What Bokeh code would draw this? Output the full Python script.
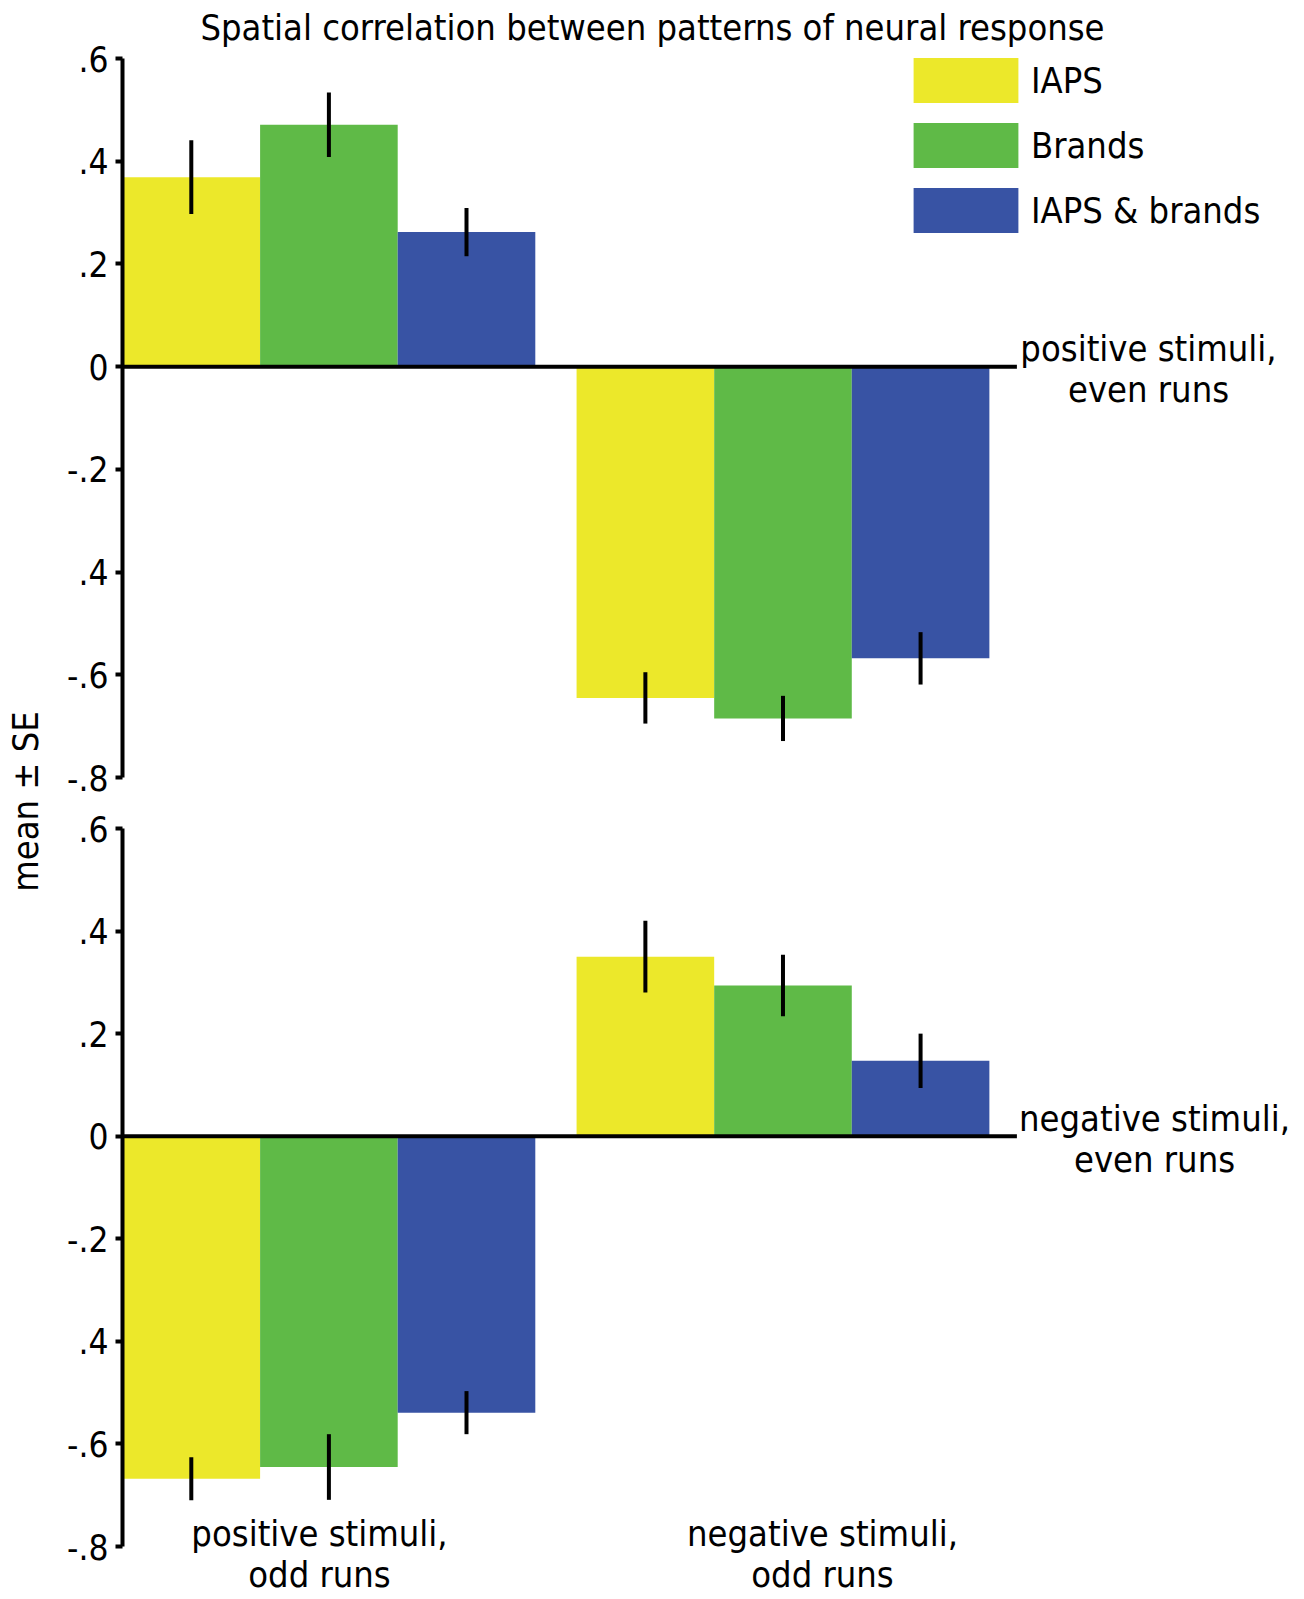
import math
from bokeh.plotting import figure
from bokeh.models import Range1d, FixedTicker, Label, Legend, LegendItem, ColumnDataSource
from bokeh.layouts import row, column
from bokeh.embed import file_html
from bokeh.resources import INLINE

# ---------------- data ----------------
TITLE = "Spatial correlation between patterns of neural response"
Y_LABEL = "mean ± SE"
SERIES = ["IAPS", "Brands", "IAPS & brands"]
COLUMN_LABELS = ["positive stimuli,\nodd runs", "negative stimuli,\nodd runs"]
ROW_LABELS = ["positive stimuli,\neven runs", "negative stimuli,\neven runs"]
Y_TICKS = [-0.8, -0.6, -0.4, -0.2, 0, 0.2, 0.4, 0.6]
Y_TICK_LABELS = ["-.8", "-.6", ".4", "-.2", "0", ".2", ".4", ".6"]

# row 1: positive stimuli, even runs  (values for [positive odd, negative odd])
POS_EVEN_IAPS = [0.369, -0.645]
POS_EVEN_BRANDS = [0.471, -0.685]
POS_EVEN_BOTH = [0.262, -0.568]
POS_EVEN_IAPS_SE = [0.072, 0.050]
POS_EVEN_BRANDS_SE = [0.063, 0.044]
POS_EVEN_BOTH_SE = [0.047, 0.051]

# row 2: negative stimuli, even runs  (values for [positive odd, negative odd])
NEG_EVEN_IAPS = [-0.668, 0.350]
NEG_EVEN_BRANDS = [-0.645, 0.294]
NEG_EVEN_BOTH = [-0.539, 0.147]
NEG_EVEN_IAPS_SE = [0.042, 0.070]
NEG_EVEN_BRANDS_SE = [0.064, 0.060]
NEG_EVEN_BOTH_SE = [0.042, 0.053]

# ---------------- style / layout ----------------
COLORS = ["#ECE82A", "#5FBA47", "#3853A4"]
FONT = "DejaVu Sans Condensed"
FS = "36px"
TICK_FS = "35px"
LINE_H = 1.0

LBL_W = 50
FIG_W = 1250
BORDER_L = 72
FRAME_LEFT = LBL_W + BORDER_L          # page px of frame left (=122)
PX_PER_UNIT = 137.6
GAP = 0.3
X_END = (FIG_W - BORDER_L) / PX_PER_UNIT
Y0, Y1 = -0.8, 0.6

# panel geometry in page pixels: figure top, figure height, pixel rows of 0.6 and -0.8
P1 = dict(top=0, h=800, y_hi=58, y_lo=777)
P2 = dict(top=800, h=799, y_hi=828, y_lo=1546)


def scale(P):
    return (P["y_lo"] - P["y_hi"]) / (Y1 - Y0)


def yd(page_y, P):
    return Y1 - (page_y - P["y_hi"]) / scale(P)


def xd(page_x):
    return (page_x - FRAME_LEFT) / PX_PER_UNIT


def bar_x(group, k):
    return group * (len(SERIES) + GAP) + k + 0.5


def make_panel(means, ses, P):
    p = figure(width=FIG_W, height=P["h"],
               x_range=Range1d(0, X_END),
               y_range=Range1d(yd(P["top"] + P["h"], P), yd(P["top"], P)),
               output_backend="svg", toolbar_location=None, title=None,
               x_axis_location=None,
               min_border_left=BORDER_L, min_border_right=0,
               min_border_top=0, min_border_bottom=0)
    p.xgrid.visible = False
    p.ygrid.visible = False
    p.outline_line_color = None
    renderers = []
    for k, (m, s, c) in enumerate(zip(means, ses, COLORS)):
        xs = [bar_x(g, k) for g in range(len(m))]
        src = ColumnDataSource(dict(x=xs, top=m, lo=[a - b for a, b in zip(m, s)],
                                    hi=[a + b for a, b in zip(m, s)]))
        r = p.vbar(x="x", top="top", bottom=0, width=1.0, source=src,
                   fill_color=c, line_color=None)
        renderers.append((r, src))
    for r, src in renderers:
        p.segment(x0="x", y0="lo", x1="x", y1="hi", source=src,
                  line_color="black", line_width=4)
    zero_end = bar_x(len(means[0]) - 1, len(SERIES) - 1) + 0.5 + 0.2
    p.segment(x0=[0], y0=[0], x1=[zero_end], y1=[0], line_color="black", line_width=4)

    ax = p.yaxis[0]
    ax.bounds = (Y0, Y1)
    ax.ticker = FixedTicker(ticks=Y_TICKS)
    ax.major_label_overrides = dict(zip(Y_TICKS, Y_TICK_LABELS))
    ax.axis_line_width = 4
    ax.axis_line_color = "black"
    ax.major_tick_line_width = 4
    ax.major_tick_line_color = "black"
    ax.major_tick_out = 7
    ax.major_tick_in = 0
    ax.minor_tick_out = 0
    ax.minor_tick_in = 0
    ax.major_label_standoff = 7
    ax.major_label_text_font = FONT
    ax.major_label_text_font_size = TICK_FS
    ax.major_label_text_color = "black"
    return p, [r for r, _ in renderers]


p1, rs1 = make_panel([POS_EVEN_IAPS, POS_EVEN_BRANDS, POS_EVEN_BOTH],
                     [POS_EVEN_IAPS_SE, POS_EVEN_BRANDS_SE, POS_EVEN_BOTH_SE], P1)
p2, rs2 = make_panel([NEG_EVEN_IAPS, NEG_EVEN_BRANDS, NEG_EVEN_BOTH],
                     [NEG_EVEN_IAPS_SE, NEG_EVEN_BRANDS_SE, NEG_EVEN_BOTH_SE], P2)

TEXT = dict(text_font=FONT, text_font_size=FS, text_color="black",
            text_align="center", text_baseline="middle", text_line_height=LINE_H)

# title
p1.add_layout(Label(x=xd(652), y=yd(27, P1), text=TITLE, **TEXT))

# row labels (right side)
p1.add_layout(Label(x=xd(1148), y=yd(368, P1), text=ROW_LABELS[0], **TEXT))
p2.add_layout(Label(x=xd(1154), y=yd(1138, P2), text=ROW_LABELS[1], **TEXT))

# column labels (bottom)
for lab, px in zip(COLUMN_LABELS, [319, 822]):
    p2.add_layout(Label(x=xd(px), y=yd(1553, P2), text=lab, **TEXT))

# legend
legend = Legend(items=[LegendItem(label=s, renderers=[r]) for s, r in zip(SERIES, rs1)],
                location=(900 - FRAME_LEFT, P1["h"] - 238),
                glyph_width=131, glyph_height=56, spacing=9, label_standoff=0,
                padding=0, margin=0, border_line_color=None, background_fill_alpha=0,
                label_text_font=FONT, label_text_font_size=FS, label_text_color="black")
p1.add_layout(legend)

# y-axis label strip
TOTAL_H = P1["h"] + P2["h"]
lf = figure(width=LBL_W, height=TOTAL_H, x_range=Range1d(0, LBL_W), y_range=Range1d(0, TOTAL_H),
            output_backend="svg", toolbar_location=None, title=None,
            x_axis_location=None, y_axis_location=None,
            min_border_left=0, min_border_right=0, min_border_top=0, min_border_bottom=0)
lf.xgrid.visible = False
lf.ygrid.visible = False
lf.outline_line_color = None
lf.add_layout(Label(x=25, y=TOTAL_H - 801, text=Y_LABEL, angle=math.pi / 2, **TEXT))

layout = row(lf, column(p1, p2))
open("out.html", "w").write(file_html(layout, INLINE))
